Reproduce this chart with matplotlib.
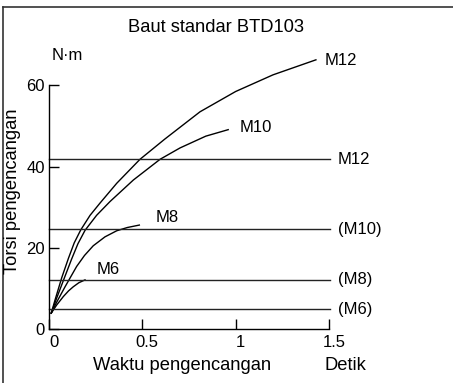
import matplotlib.pyplot as plt
import matplotlib.transforms as mtransforms
from matplotlib.lines import Line2D

plt.rcParams['font.family'] = ['Liberation Sans', 'DejaVu Sans']

# Kurva torsi vs waktu
m12_t = [0.012, 0.032, 0.068, 0.104, 0.135, 0.170, 0.22, 0.273, 0.363, 0.4875, 0.621, 0.809, 1.0, 1.2, 1.43]
m12_y = [3.9, 7.1, 12.6, 17.4, 21.2, 24.4, 28.0, 31.0, 35.9, 41.8, 46.8, 53.5, 58.5, 62.6, 66.3]
m10_t = [0.012, 0.041, 0.080, 0.121, 0.155, 0.193, 0.255, 0.327, 0.452, 0.595, 0.702, 0.84, 0.96]
m10_y = [3.9, 7.6, 12.3, 17.2, 21.0, 24.3, 28.0, 31.4, 36.7, 41.8, 44.6, 47.5, 49.1]
m8_t = [0.012, 0.041, 0.086, 0.148, 0.19, 0.237, 0.30, 0.363, 0.42, 0.484]
m8_y = [3.9, 6.6, 10.4, 15.4, 18.1, 20.5, 22.7, 24.2, 25.0, 25.6]
m6_t = [0.012, 0.041, 0.077, 0.105, 0.130, 0.160, 0.193]
m6_y = [3.9, 5.9, 8.0, 9.4, 10.4, 11.4, 12.1]

# Torsi standar (garis horizontal)
std_labels = ['M12', '(M10)', '(M8)', '(M6)']
std_values = [41.8, 24.6, 12.1, 4.9]

curve_labels = ['M12', 'M10', 'M8', 'M6']
curve_label_pos = [(1.479, 66.2), (1.023, 49.6), (0.573, 27.4), (0.257, 14.6)]

x_ticks = [0, 0.5, 1, 1.5]
x_ticklabels = ['0', '0.5', '1', '1.5']
y_ticks = [0, 20, 40, 60]

fig = plt.figure(figsize=(4.53, 3.83), dpi=100)
ax = fig.add_axes([49 / 453, 54 / 383, 280 / 453, 284.2 / 383])

lw = 1.0
for t, y in [(m12_t, m12_y), (m10_t, m10_y), (m8_t, m8_y), (m6_t, m6_y)]:
    ax.plot(t, y, color='black', lw=lw, clip_on=False, solid_joinstyle='round')

for v, lab in zip(std_values, std_labels):
    ax.plot([0, 1.505], [v, v], color='#222222', lw=lw, clip_on=False)
    ax.text(1.548, v, lab, fontsize=12, va='center', ha='left')

for lab, (x, y) in zip(curve_labels, curve_label_pos):
    ax.text(x, y, lab, fontsize=12, va='center', ha='left')

ax.set_xlim(0, 1.5)
ax.set_ylim(0, 70)
ax.spines['top'].set_visible(False)
ax.spines['right'].set_visible(False)
ax.spines['left'].set_bounds(0, 60)
ax.spines['bottom'].set_bounds(0, 1.5)
for s in ['left', 'bottom']:
    ax.spines[s].set_linewidth(1.0)

ax.set_yticks(y_ticks)
ax.set_xticks(x_ticks)
ax.set_xticklabels(x_ticklabels)
ax.tick_params(axis='both', direction='in', length=7.2, width=1.0, labelsize=12)
ax.tick_params(axis='y', pad=3)
ax.tick_params(axis='x', pad=4)
# geser label x sedikit ke kanan
offset = mtransforms.ScaledTranslation(3.6 / 72, 0, fig.dpi_scale_trans)
for lbl in ax.get_xticklabels():
    lbl.set_transform(lbl.get_transform() + offset)

# Teks
fig.text(216 / 453, 1 - 28 / 383, 'Baut standar BTD103', fontsize=13.2, ha='center', va='center')
fig.text(52 / 453, 1 - 55 / 383, 'N·m', fontsize=12, ha='left', va='center')
fig.text(182 / 453, 1 - 366 / 383, 'Waktu pengencangan', fontsize=13.2, ha='center', va='center')
fig.text(345 / 453, 1 - 366 / 383, 'Detik', fontsize=13.2, ha='center', va='center')
fig.text(13 / 453, 1 - 191 / 383, 'Torsi pengencangan', fontsize=13.2, ha='center', va='center',
         rotation=90)

# Bingkai atas dan kiri
fig.add_artist(Line2D([3 / 453, 1], [1 - 7 / 383, 1 - 7 / 383], color='#333333', lw=1.2,
                      transform=fig.transFigure))
fig.add_artist(Line2D([3 / 453, 3 / 453], [0, 1 - 7 / 383], color='#333333', lw=1.2,
                      transform=fig.transFigure))

fig.savefig('out.png', dpi=100)
